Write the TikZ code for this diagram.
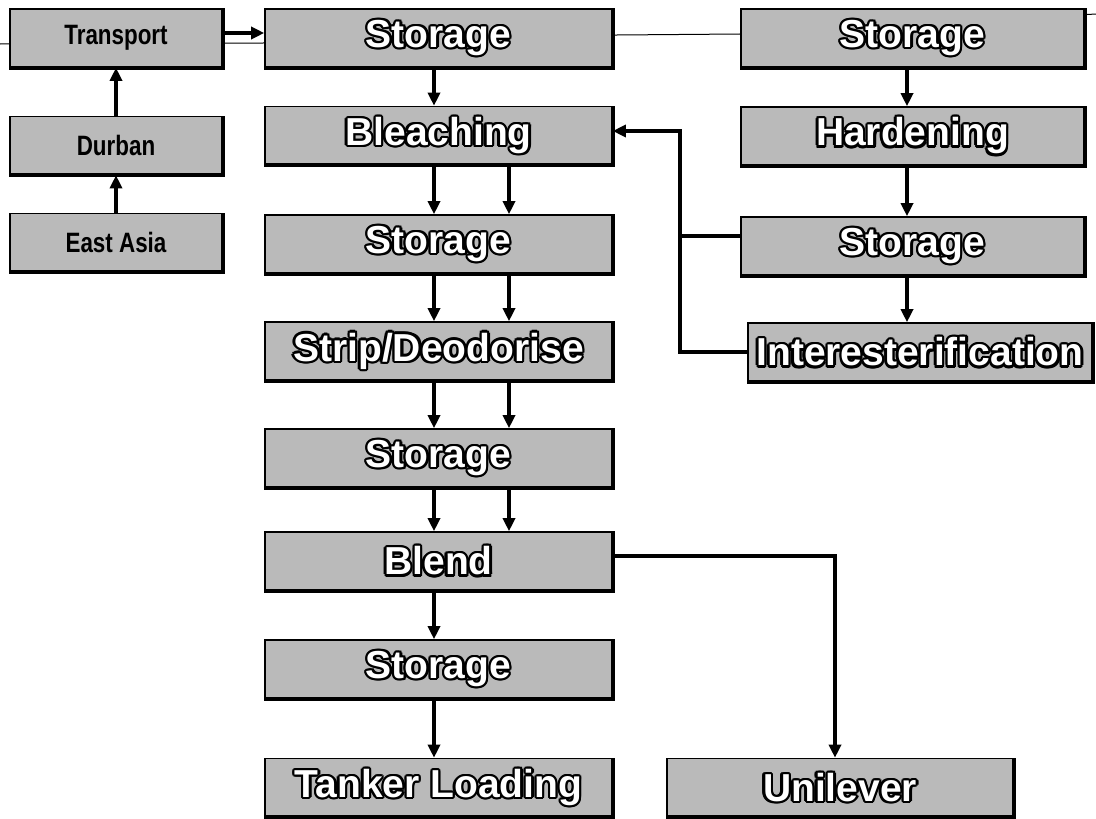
\documentclass[tikz,border=0pt]{standalone}
\usepackage{fontspec}
\usepackage{graphicx}
\setmainfont{Liberation Sans}
\usetikzlibrary{arrows.meta,calc}
\newcommand\olt[1]{{\def\oo##1##2{\rlap{\kern##1\raise##2\hbox{\color{black}#1}}}%
\oo{2.4pt}{0pt}\oo{2.08pt}{1.2pt}\oo{1.2pt}{2.08pt}\oo{0pt}{2.4pt}\oo{-1.2pt}{2.08pt}\oo{-2.08pt}{1.2pt}%
\oo{-2.4pt}{0pt}\oo{-2.08pt}{-1.2pt}\oo{-1.2pt}{-2.08pt}\oo{0pt}{-2.4pt}\oo{1.2pt}{-2.08pt}\oo{2.08pt}{-1.2pt}%
\hbox{\color{white}#1}}}
\definecolor{boxgray}{gray}{0.73}
\tikzset{
  box/.style={draw=black, line width=1.6pt, fill=boxgray, inner sep=0pt, anchor=center},
  big/.style={box, minimum height=58pt, font=\fontsize{39}{42}\selectfont\bfseries},
  midbox/.style={big, minimum width=347pt},
  rightbox/.style={big, minimum width=343pt},
  leftbox/.style={box, minimum width=212pt, minimum height=58pt, font=\fontsize{28}{30}\selectfont\bfseries},
  conn/.style={line width=3.5pt},
  arr/.style={conn, -{Triangle[length=13pt,width=12pt]}},
  heavy/.style={line width=4pt, line join=miter},
  scanline/.style={line width=1pt}
}
\begin{document}
\begin{tikzpicture}[x=1pt,y=-1pt]
\useasboundingbox (0,0) rectangle (1096,819);
% faint scan line across top
\draw[scanline] (0,44) -- (263,43) -- (617,35) -- (740,34) -- (1096,14);
% left column
\node[leftbox] (tr) at (116,38) {\scalebox{0.8}[1]{Transport}};
\node[leftbox] (du) at (116,145.5) {\scalebox{0.8}[1]{Durban}};
\node[leftbox] (ea) at (116,242.5) {\scalebox{0.8}[1]{East Asia}};
% middle column
\node[midbox] (s1) at (438.5,38) {\olt{Storage}};
\node[midbox] (bl) at (438.5,135.5) {\olt{Bleaching}};
\node[midbox] (s2) at (438.5,244) {\olt{Storage}};
\node[midbox] (sd) at (438.5,351) {\olt{Strip/Deodorise}};
\node[midbox] (s3) at (438.5,458) {\olt{Storage}};
\node[midbox] (bd) at (438.5,561) {\olt{Blend}};
\node[midbox] (s4) at (438.5,669) {\olt{Storage}};
\node[midbox] (tl) at (438.5,787.5) {\olt{Tanker Loading}};
% right column
\node[rightbox] (r1) at (912.5,38) {\olt{Storage}};
\node[rightbox] (hd) at (912.5,136) {\olt{Hardening}};
\node[rightbox] (r2) at (912.5,246) {\olt{Storage}};
\node[big, minimum width=344pt] (ie) at (920,352) {\olt{Interesterification}};
\node[big, minimum width=346pt] (un) at (840,787.5) {\olt{Unilever}};
% heavy bottom/right edges
\foreach \n in {tr,du,ea,s1,bl,s2,sd,s3,bd,s4,tl,r1,hd,r2,ie,un}
  \draw[heavy] (\n.south west) -- (\n.south east) -- (\n.north east);
% connectors
\draw[arr] ([yshift=5pt]tr.east) -- ([yshift=5pt]s1.west);
\draw[arr] (du.north) -- (tr.south);
\draw[arr] (ea.north) -- (du.south);
\draw[arr] ([xshift=-4.5pt]s1.south) -- ([xshift=-4.5pt]bl.north);
\foreach \a/\b in {bl/s2,s2/sd,sd/s3,s3/bd}{
  \draw[arr] ([xshift=-4.5pt]\a.south) -- ([xshift=-4.5pt]\b.north);
  \draw[arr] ([xshift=70.5pt]\a.south) -- ([xshift=70.5pt]\b.north);
}
\draw[arr] ([xshift=-4.5pt]bd.south) -- ([xshift=-4.5pt]s4.north);
\draw[arr] ([xshift=-4.5pt]s4.south) -- ([xshift=-4.5pt]tl.north);
\draw[arr] ([yshift=5pt]bd.east) -| ([xshift=-5pt]un.north);
\draw[arr] ([xshift=-5.5pt]r1.south) -- ([xshift=-5.5pt]hd.north);
\draw[arr] ([xshift=-5.5pt]hd.south) -- ([xshift=-5.5pt]r2.north);
\draw[arr] ([xshift=-5.5pt]r2.south) -- ([xshift=-5.5pt]r2.south |- ie.north);
\draw[arr] (ie.west) -| ([xshift=67pt,yshift=4.5pt]bl.east) -- ([yshift=4.5pt]bl.east);
\draw[conn] ([yshift=10pt]r2.west) -- ++(-62,0);
\end{tikzpicture}
\end{document}
